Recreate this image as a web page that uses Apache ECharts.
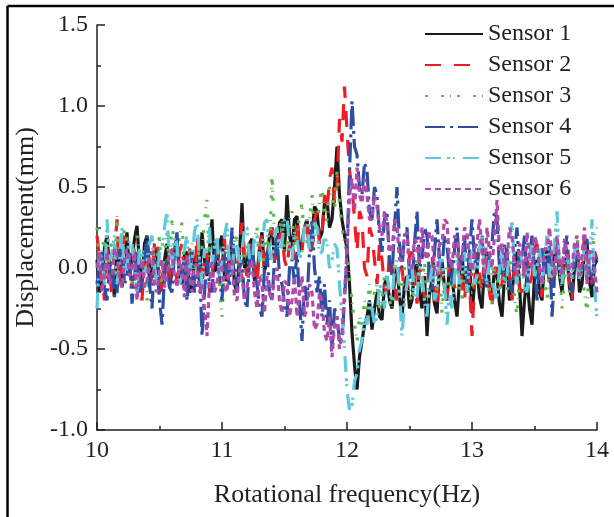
<!DOCTYPE html>
<html>
<head>
<meta charset="utf-8">
<script src="https://cdn.jsdelivr.net/npm/echarts@6/dist/echarts.min.js"></script>
<style>html,body{margin:0;padding:0;background:#fff;}#c{width:614px;height:517px;}</style>
</head>
<body>
<div id="c"></div>
<script>
const freq = [
10.00,10.02,10.04,10.06,10.08,10.10,10.12,10.14,10.16,10.18,
10.20,10.22,10.24,10.26,10.28,10.30,10.32,10.34,10.36,10.38,
10.40,10.42,10.44,10.46,10.48,10.50,10.52,10.54,10.56,10.58,
10.60,10.62,10.64,10.66,10.68,10.70,10.72,10.74,10.76,10.78,
10.80,10.82,10.84,10.86,10.88,10.90,10.92,10.94,10.96,10.98,
11.00,11.02,11.04,11.06,11.08,11.10,11.12,11.14,11.16,11.18,
11.20,11.22,11.24,11.26,11.28,11.30,11.32,11.34,11.36,11.38,
11.40,11.42,11.44,11.46,11.48,11.50,11.52,11.54,11.56,11.58,
11.60,11.62,11.64,11.66,11.68,11.70,11.72,11.74,11.76,11.78,
11.80,11.82,11.84,11.86,11.88,11.90,11.92,11.94,11.96,11.98,
12.00,12.02,12.04,12.06,12.08,12.10,12.12,12.14,12.16,12.18,
12.20,12.22,12.24,12.26,12.28,12.30,12.32,12.34,12.36,12.38,
12.40,12.42,12.44,12.46,12.48,12.50,12.52,12.54,12.56,12.58,
12.60,12.62,12.64,12.66,12.68,12.70,12.72,12.74,12.76,12.78,
12.80,12.82,12.84,12.86,12.88,12.90,12.92,12.94,12.96,12.98,
13.00,13.02,13.04,13.06,13.08,13.10,13.12,13.14,13.16,13.18,
13.20,13.22,13.24,13.26,13.28,13.30,13.32,13.34,13.36,13.38,
13.40,13.42,13.44,13.46,13.48,13.50,13.52,13.54,13.56,13.58,
13.60,13.62,13.64,13.66,13.68,13.70,13.72,13.74,13.76,13.78,
13.80,13.82,13.84,13.86,13.88,13.90,13.92,13.94,13.96,13.98,
14.00];

const sensor1 = [
0.05,-0.15,-0.1,0.12,0.2,0.0,-0.05,-0.18,0.15,0.02,
-0.12,0.1,0.22,-0.05,0.05,0.18,0.26,0.02,-0.08,0.15,
0.2,0.0,-0.05,0.1,0.12,-0.15,-0.1,0.05,0.15,-0.12,
-0.02,0.12,0.18,-0.05,-0.1,0.08,0.1,-0.15,-0.12,0.05,
0.08,-0.08,0.22,0.05,-0.05,0.12,0.3,-0.02,0.0,0.15,
0.2,-0.05,-0.08,0.1,0.15,-0.1,-0.15,0.08,0.4,0.0,
0.02,0.15,0.18,-0.08,-0.05,0.12,0.22,-0.02,0.05,0.2,
0.25,0.05,0.1,0.28,0.3,0.1,0.45,0.2,0.12,0.3,
0.32,0.1,0.15,0.25,0.3,0.12,0.2,0.38,0.35,0.18,
0.22,0.4,0.42,0.25,0.3,0.5,0.75,0.45,0.3,0.2,
0.12,-0.1,-0.4,-0.6,-0.75,-0.55,-0.45,-0.35,-0.3,-0.2,
-0.38,-0.25,-0.15,-0.3,-0.32,-0.1,-0.05,-0.2,-0.25,-0.08,
0.0,-0.18,-0.3,-0.1,-0.05,-0.25,-0.2,0.0,0.02,-0.15,
-0.25,-0.05,-0.42,-0.15,-0.08,-0.22,-0.28,0.0,0.05,-0.12,
-0.2,0.02,-0.05,-0.2,-0.3,-0.08,0.08,-0.1,-0.15,0.05,
-0.28,-0.1,0.0,-0.18,-0.25,0.02,0.1,-0.12,-0.2,0.0,
-0.05,-0.22,-0.3,-0.05,0.05,-0.2,-0.15,0.0,0.1,-0.1,
-0.42,-0.2,-0.05,-0.25,-0.35,-0.05,0.05,-0.15,-0.2,0.05,
0.12,-0.08,-0.1,0.1,0.15,-0.05,-0.15,0.05,0.08,-0.12,
-0.2,0.0,0.12,-0.15,-0.1,0.1,0.15,-0.08,-0.18,0.02,
0.05];

const sensor2 = [
0.2,0.05,-0.05,-0.2,0.12,0.0,-0.18,0.1,0.3,-0.1,
0.0,0.2,0.15,-0.05,-0.12,0.1,0.08,-0.1,-0.2,0.05,
0.1,-0.12,-0.05,0.15,0.18,0.0,-0.15,0.08,0.05,-0.1,
0.12,0.02,-0.08,0.1,0.15,-0.05,-0.1,0.12,0.05,-0.08,
0.2,0.0,-0.12,0.08,0.1,-0.15,-0.05,0.12,0.15,-0.02,
0.02,0.18,-0.1,0.05,0.22,0.0,0.0,0.12,0.28,0.05,
-0.05,0.1,0.15,0.0,-0.1,0.12,0.2,-0.02,0.05,0.18,
0.25,0.05,0.08,0.2,0.22,0.05,0.0,0.15,0.18,0.05,
0.3,0.12,0.1,0.28,0.25,0.1,0.12,0.3,0.35,0.15,
0.2,0.45,0.35,0.55,0.62,0.4,0.5,0.92,0.78,1.12,
0.85,0.6,0.5,0.3,0.1,0.35,0.3,0.0,-0.05,0.25,
0.2,0.05,-0.1,0.15,0.05,-0.12,-0.15,0.1,0.05,-0.1,
-0.2,0.05,0.0,-0.15,-0.12,0.08,0.1,-0.05,-0.22,0.0,
-0.05,-0.18,-0.15,0.05,0.08,-0.1,-0.25,0.0,-0.02,-0.15,
-0.18,0.02,0.05,-0.12,-0.1,0.05,-0.1,-0.2,0.0,-0.08,
-0.42,-0.1,0.1,-0.05,-0.15,0.08,0.05,-0.15,-0.25,0.0,
0.0,-0.12,-0.1,0.05,0.12,-0.05,-0.2,0.0,0.02,-0.12,
-0.15,0.05,0.1,-0.1,-0.05,0.12,0.15,-0.05,-0.18,0.08,
0.05,-0.12,-0.1,0.1,0.18,0.0,-0.05,0.15,0.1,-0.08,
-0.2,0.05,0.15,-0.05,0.0,0.2,0.12,-0.05,-0.1,0.1,
0.05];

const sensor3 = [
0.25,0.0,0.1,0.2,-0.05,0.12,0.15,-0.08,0.32,0.1,
0.05,0.25,0.18,0.0,-0.1,0.12,0.2,0.05,0.0,0.15,
-0.2,0.05,0.1,-0.05,0.05,0.2,-0.12,0.08,0.22,0.0,
0.3,0.1,0.05,0.2,0.28,0.0,-0.05,0.1,0.15,-0.1,
0.0,0.15,0.12,0.3,0.42,0.05,-0.05,0.12,0.18,-0.1,
-0.3,0.0,0.1,-0.1,0.0,0.15,0.2,0.02,-0.1,0.12,
0.15,-0.05,0.05,0.18,0.25,0.0,-0.05,0.15,0.2,0.05,
0.58,0.2,0.1,0.25,0.3,0.1,0.15,0.3,0.35,0.12,
0.2,0.32,0.4,0.15,0.15,0.3,0.45,0.2,0.25,0.4,
0.5,0.28,0.3,0.5,0.45,0.35,0.6,0.4,0.25,0.15,
0.1,-0.05,-0.2,-0.35,-0.45,-0.3,-0.35,-0.2,-0.25,-0.1,
-0.3,-0.15,-0.1,-0.25,-0.2,-0.05,-0.05,-0.2,-0.25,0.0,
0.05,-0.1,-0.15,0.0,-0.02,-0.15,-0.22,0.02,0.05,-0.12,
-0.1,0.05,-0.18,-0.05,0.02,-0.2,-0.12,0.0,-0.28,-0.05,
0.0,-0.15,-0.1,0.05,0.08,-0.12,-0.2,0.0,-0.05,-0.15,
-0.15,0.02,0.05,-0.12,-0.1,0.05,0.1,-0.15,-0.22,0.0,
-0.05,-0.15,0.05,-0.05,-0.15,0.05,0.0,-0.18,-0.3,-0.05,
0.05,-0.1,-0.12,0.08,0.1,-0.05,-0.05,0.1,0.12,-0.08,
-0.2,0.0,0.0,-0.12,0.15,0.02,-0.25,-0.05,0.05,-0.15,
-0.1,0.05,0.2,0.0,-0.05,-0.15,-0.28,0.05,0.1,0.2,
0.25];

const sensor4 = [
-0.1,0.05,0.1,-0.12,-0.2,0.0,0.05,-0.18,-0.15,0.08,
0.15,-0.1,-0.05,0.1,-0.22,-0.05,0.1,-0.15,-0.1,0.05,
0.2,-0.1,-0.25,0.05,0.0,-0.2,-0.35,-0.05,0.05,-0.12,
-0.15,0.1,0.22,-0.1,-0.05,0.05,-0.2,-0.05,0.1,-0.15,
-0.1,0.05,-0.42,-0.15,0.05,-0.1,-0.15,0.08,0.12,-0.05,
-0.2,0.1,0.0,-0.12,0.25,0.05,-0.15,0.0,0.05,-0.2,
-0.25,0.05,0.15,-0.05,-0.1,-0.25,-0.3,0.0,0.1,-0.15,
-0.2,0.05,0.2,-0.05,-0.1,-0.22,-0.3,0.0,0.05,-0.1,
0.1,-0.2,-0.45,-0.1,-0.2,0.1,0.3,0.0,-0.15,-0.05,
-0.3,-0.1,-0.35,-0.2,-0.5,-0.25,-0.3,-0.45,-0.45,-0.2,
0.1,0.6,1.03,0.75,0.7,0.5,0.45,0.65,0.6,0.35,
0.3,0.5,0.45,0.2,0.1,0.3,0.35,0.05,-0.05,0.25,
0.5,0.15,0.0,0.2,0.25,-0.05,-0.1,0.15,0.35,0.0,
0.05,0.25,0.2,-0.05,-0.15,0.1,0.3,0.05,0.0,0.2,
0.15,-0.05,-0.1,0.12,0.25,0.0,0.05,0.2,-0.1,0.1,
0.3,0.05,0.0,0.15,0.2,-0.05,-0.12,0.1,0.15,0.35,
0.3,0.0,-0.05,0.15,0.1,-0.1,-0.15,0.1,0.25,0.0,
0.05,0.2,-0.1,0.05,0.2,0.0,-0.2,0.05,0.12,-0.05,
0.0,0.15,-0.3,-0.05,0.15,0.0,-0.05,0.1,0.2,-0.05,
-0.15,0.05,0.1,-0.05,0.0,0.12,0.18,-0.05,-0.1,0.1,
0.05];

const sensor5 = [
-0.25,0.1,0.05,-0.1,0.3,0.05,0.1,0.2,-0.1,0.05,
0.25,-0.05,0.0,0.18,0.15,0.0,-0.15,0.12,0.1,-0.05,
0.05,0.15,0.2,0.0,-0.1,0.1,0.12,0.25,0.35,0.05,
0.0,0.2,0.15,-0.1,-0.05,0.12,0.2,0.0,0.05,0.22,
0.3,0.05,-0.1,0.12,0.1,0.25,0.0,0.15,0.2,-0.05,
0.05,0.2,0.28,0.0,-0.05,0.18,0.15,0.02,0.1,0.25,
0.25,0.05,0.0,0.2,0.2,0.05,0.12,0.28,0.3,0.1,
0.05,0.2,0.25,0.1,0.15,0.3,0.32,0.12,0.05,0.22,
0.2,0.05,0.1,0.25,0.3,0.12,0.15,0.28,0.25,0.08,
0.1,0.2,0.15,0.0,0.05,0.15,0.12,-0.1,-0.3,-0.5,
-0.75,-0.88,-0.85,-0.7,-0.65,-0.5,-0.45,-0.3,-0.35,-0.2,
-0.25,-0.35,-0.3,-0.1,-0.15,-0.25,-0.05,-0.15,-0.2,0.0,
0.05,-0.15,-0.42,-0.2,-0.1,0.05,0.02,-0.2,-0.18,0.0,
-0.05,-0.2,-0.3,-0.1,0.0,-0.2,-0.15,0.05,0.05,-0.1,
-0.35,-0.15,-0.25,-0.05,0.05,-0.1,-0.05,0.1,-0.15,0.02,
0.1,-0.1,-0.05,0.12,0.2,0.0,-0.1,0.05,0.0,-0.15,
-0.2,0.0,0.12,-0.1,-0.05,0.15,0.3,0.0,-0.1,0.1,
0.05,-0.12,-0.15,0.05,0.15,-0.05,0.0,0.12,-0.1,0.05,
0.2,-0.05,-0.05,0.15,0.35,0.0,-0.1,0.08,0.1,-0.05,
-0.05,0.1,0.15,-0.08,0.0,0.15,-0.1,0.05,0.3,-0.1,
-0.32];

const sensor6 = [
0.0,0.1,-0.15,-0.02,0.1,-0.1,-0.05,0.12,0.08,-0.08,
-0.12,0.05,0.12,-0.05,0.0,0.1,-0.2,-0.05,0.05,-0.12,
-0.08,0.08,0.1,-0.1,-0.15,0.0,0.05,-0.12,-0.05,0.1,
0.1,-0.05,-0.12,0.05,0.0,-0.18,0.08,-0.05,-0.15,0.02,
0.02,-0.15,-0.1,-0.25,-0.42,-0.1,0.05,-0.15,-0.1,0.05,
0.0,-0.12,-0.15,0.02,0.05,-0.18,-0.2,0.0,-0.05,-0.2,
-0.12,0.0,0.05,-0.15,-0.25,-0.05,-0.1,-0.28,-0.05,-0.15,
-0.2,-0.05,0.0,-0.2,-0.28,-0.08,-0.1,-0.3,-0.2,-0.05,
-0.3,-0.15,-0.05,-0.3,-0.25,-0.1,-0.15,-0.38,-0.35,-0.15,
-0.2,-0.4,-0.45,-0.3,-0.55,-0.35,-0.3,-0.5,-0.4,-0.15,
0.1,0.45,0.55,0.35,0.62,0.45,0.4,0.55,0.45,0.3,
0.3,0.45,0.38,0.25,0.2,0.35,0.28,0.1,0.1,0.3,
0.25,0.05,0.05,0.2,0.22,0.0,0.0,0.18,0.15,0.02,
0.25,0.1,0.05,0.22,0.2,0.0,-0.05,0.15,0.15,0.3,
0.28,0.05,0.0,0.2,0.18,-0.02,0.05,0.25,0.22,0.05,
-0.05,0.12,0.15,0.3,0.1,-0.05,0.25,0.1,0.0,0.2,
0.42,0.1,0.15,0.0,0.05,0.25,0.2,0.0,-0.05,0.15,
0.1,-0.05,0.22,0.05,0.0,0.2,0.15,0.0,-0.1,0.12,
0.12,0.25,0.05,-0.05,0.2,0.05,-0.05,0.18,0.1,-0.05,
0.0,0.15,0.2,-0.05,0.08,0.25,-0.1,0.1,0.1,0.0,
-0.15];

const seriesNames = ['Sensor 1','Sensor 2','Sensor 3','Sensor 4','Sensor 5','Sensor 6'];
const xTickLabels = ['10','11','12','13','14'];
const yTickLabels = ['-1.0','-0.5','0.0','0.5','1.0','1.5'];

const allData = [sensor1, sensor2, sensor3, sensor4, sensor5, sensor6];
const colors = ['#1a1a1a','#ee1c25','#5cb946','#2d4ea3','#5ec8dc','#b14bab'];
const dashes = ['solid',[16,13],[3,13,3,6,1,6],[20,5,3,5],[16,6,3,3,2,8],[6,4]];

const font = "'Liberation Serif','Times New Roman',serif";
const chart = echarts.init(document.getElementById('c'), null, {renderer:'canvas'});

const series = allData.map((arr, k) => ({
  name: seriesNames[k],
  type: 'line',
  symbol: 'none',
  animation: false,
  data: arr.map((v, i) => [freq[i], v]),
  lineStyle: {color: colors[k], width: 3.2, type: dashes[k]},
  itemStyle: {color: colors[k]},
  clip: true
}));

chart.setOption({
  animation: false,
  backgroundColor: '#fff',
  grid: {left: 97, right: 17, top: 25, bottom: 87},
  legend: {
    orient: 'vertical', left: 424, top: 22, padding: 0,
    itemWidth: 58, itemHeight: 14, itemGap: 7,
    data: seriesNames,
    itemStyle: {opacity: 0},
    textStyle: {fontFamily: font, fontSize: 24, color: '#222'}
  },
  xAxis: {
    type: 'value', min: 10, max: 14, interval: 1,
    name: 'Rotational frequency(Hz)', nameLocation: 'middle', nameGap: 52,
    nameTextStyle: {fontFamily: font, fontSize: 26, color: '#222'},
    axisLine: {show: true, onZero: false, lineStyle: {color: '#222', width: 1.5}},
    axisTick: {show: true, inside: true, length: 8, lineStyle: {color: '#222', width: 1.5}},
    minorTick: {show: true, splitNumber: 2, length: 4, lineStyle: {color: '#222', width: 1.5}},
    splitLine: {show: false},
    axisLabel: {fontFamily: font, fontSize: 24, color: '#222', margin: 9,
      formatter: v => xTickLabels[Math.round(v - 10)]}
  },
  yAxis: {
    type: 'value', min: -1, max: 1.5, interval: 0.5,
    name: 'Displacement(mm)', nameLocation: 'middle', nameGap: 50,
    nameTextStyle: {fontFamily: font, fontSize: 26, color: '#222'},
    axisLine: {show: true, onZero: false, lineStyle: {color: '#222', width: 1.5}},
    axisTick: {show: true, inside: true, length: 8, lineStyle: {color: '#222', width: 1.5}},
    minorTick: {show: true, splitNumber: 2, length: 4, lineStyle: {color: '#222', width: 1.5}},
    splitLine: {show: false},
    axisLabel: {fontFamily: font, fontSize: 24, color: '#222', margin: 9,
      formatter: v => yTickLabels[Math.round((v + 1) / 0.5)]}
  },
  graphic: [
    {type: 'line', shape: {x1: 7.5, y1: 6, x2: 614, y2: 6}, style: {stroke: '#000', lineWidth: 2.5}},
    {type: 'line', shape: {x1: 7.5, y1: 6, x2: 7.5, y2: 517}, style: {stroke: '#000', lineWidth: 2.5}}
  ],
  series: series
});
</script>
</body>
</html>
